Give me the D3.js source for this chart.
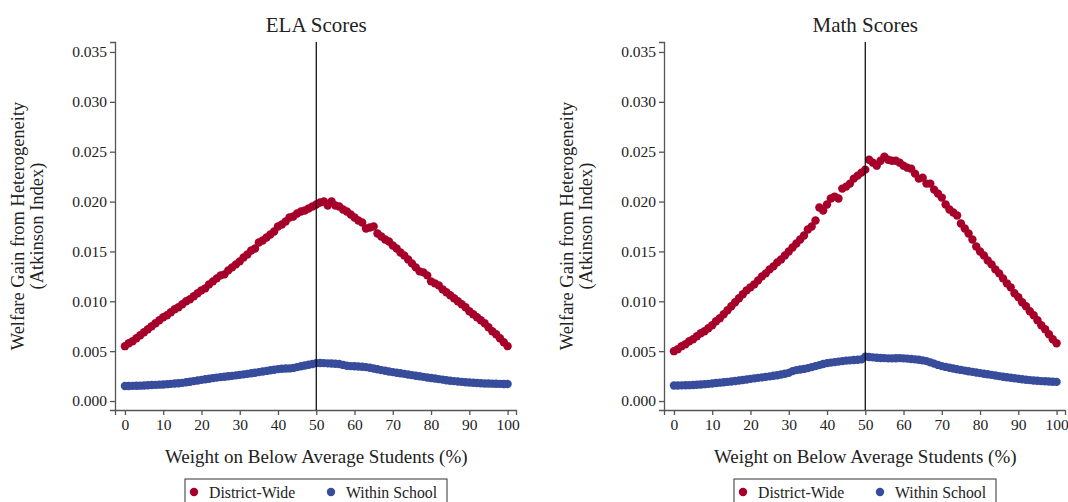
<!DOCTYPE html>
<html>
<head>
<meta charset="utf-8">
<script src="https://cdnjs.cloudflare.com/ajax/libs/d3/7.8.5/d3.min.js"></script>
<style>
  body { margin: 0; background: #fff; }
  svg { display: block; }
  svg text { font-family: "Liberation Serif", "Times New Roman", Times, "DejaVu Serif", serif; }
  .axis path, .axis line { stroke: #555; stroke-width: 1.3; }
  .axis text { fill: #222; font-size: 15.5px; }
</style>
</head>
<body>
<svg id="chart" width="1068" height="502"></svg>
<script>
// weight on below-average students, 0..100
const weights = d3.range(0, 101);
const xTicks = [0, 10, 20, 30, 40, 50, 60, 70, 80, 90, 100];
const yTicks = [0, 0.005, 0.010, 0.015, 0.020, 0.025, 0.030, 0.035];

const elaDistrict = [
    .0055, .0058, .0060, .0063, .0066, .0069, .0072, .0075, .0078, .0081,
    .0084, .0086, .0089, .0092, .0094, .0097, .0100, .0102, .0105, .0108,
    .0111, .0113, .0117, .0120, .0123, .0126, .0127, .0131, .0134, .0137,
    .0140, .0144, .0147, .0151, .0153, .0159, .0161, .0164, .0167, .0170,
    .0175, .0177, .0180, .0184, .0185, .0188, .0190, .0191, .0193, .0195,
    .0197, .0199, .0200, .0196, .0200, .0196, .0195, .0192, .0190, .0187,
    .0184, .0181, .0179, .0173, .0174, .0175, .0168, .0165, .0162, .0160,
    .0156, .0153, .0149, .0146, .0142, .0138, .0134, .0130, .0129, .0126,
    .0120, .0118, .0116, .0112, .0109, .0106, .0103, .0100, .0097, .0094,
    .0090, .0087, .0084, .0081, .0078, .0074, .0070, .0067, .0063, .0059,
    .0055
];
const elaWithin = [
    .00150, .00151, .00152, .00153, .00154, .00156, .00158, .00160, .00162, .00164,
    .00166, .00169, .00172, .00175, .00178, .00182, .00188, .00194, .00200, .00206,
    .00212, .00218, .00224, .00230, .00235, .00240, .00244, .00248, .00252, .00257,
    .00262, .00267, .00272, .00278, .00284, .00290, .00296, .00302, .00308, .00314,
    .00320, .00324, .00326, .00327, .00332, .00340, .00348, .00356, .00364, .00372,
    .00380, .00381, .00380, .00378, .00376, .00374, .00372, .00362, .00354, .00350,
    .00348, .00346, .00344, .00340, .00334, .00326, .00318, .00310, .00303, .00296,
    .00290, .00284, .00278, .00272, .00266, .00260, .00254, .00248, .00242, .00236,
    .00231, .00226, .00220, .00215, .00209, .00204, .00200, .00196, .00192, .00189,
    .00186, .00183, .00180, .00178, .00176, .00175, .00174, .00173, .00172, .00171,
    .00170
];
const mathDistrict = [
    .0050, .0052, .0055, .0057, .0060, .0062, .0065, .0068, .0070, .0073,
    .0076, .0080, .0083, .0087, .0091, .0095, .0099, .0103, .0107, .0111,
    .0114, .0117, .0121, .0125, .0128, .0132, .0135, .0139, .0142, .0146,
    .0150, .0154, .0158, .0162, .0166, .0172, .0175, .0181, .0194, .0191,
    .0197, .0203, .0205, .0203, .0213, .0215, .0218, .0223, .0226, .0229,
    .0232, .0242, .0239, .0236, .0241, .0245, .0242, .0241, .0241, .0239,
    .0236, .0234, .0233, .0228, .0223, .0224, .0218, .0218, .0212, .0208,
    .0204, .0197, .0192, .0189, .0186, .0178, .0173, .0168, .0162, .0155,
    .0150, .0146, .0141, .0137, .0132, .0128, .0123, .0118, .0114, .0108,
    .0104, .0099, .0095, .0090, .0086, .0081, .0076, .0072, .0067, .0062,
    .0058
];
const mathWithin = [
    .00155, .00156, .00157, .00158, .00159, .00161, .00163, .00166, .00169, .00172,
    .00176, .00180, .00184, .00188, .00192, .00196, .00201, .00206, .00211, .00216,
    .00222, .00227, .00232, .00237, .00242, .00247, .00253, .00259, .00266, .00273,
    .00282, .00300, .00310, .00316, .00322, .00330, .00340, .00350, .00360, .00372,
    .00380, .00385, .00390, .00395, .00400, .00405, .00408, .00411, .00414, .00418,
    .00445, .00442, .00438, .00434, .00432, .00430, .00428, .00428, .00429, .00430,
    .00428, .00425, .00422, .00418, .00414, .00408, .00400, .00388, .00375, .00362,
    .00350, .00342, .00334, .00326, .00318, .00312, .00305, .00299, .00292, .00286,
    .00280, .00274, .00268, .00262, .00256, .00250, .00244, .00238, .00233, .00228,
    .00223, .00218, .00214, .00210, .00206, .00203, .00200, .00198, .00196, .00194,
    .00192
];

const RED = "#a6002a";
const BLUE = "#374c9b";

const svg = d3.select("#chart");

function drawPanel(offsetX, title, district, within) {
    let g = svg.append("g").attr("transform", `translate(${offsetX},0)`);

    let x = d3.scaleLinear().domain([-2.6, 102.2]).range([115, 516]);
    let y = d3.scaleLinear().domain([-0.0009, 0.036]).range([410, 42]);

    g.append("g")
            .classed("axis", true)
            .attr("transform", "translate(0,410)")
            .call(d3.axisBottom(x).tickValues(xTicks).tickSizeOuter(0).tickSize(5).tickPadding(4));

    g.append("g")
            .classed("axis", true)
            .attr("transform", "translate(115,0)")
            .call(d3.axisLeft(y).tickValues(yTicks).tickSizeOuter(0).tickSize(5).tickPadding(3)
                .tickFormat(d3.format(".3f")));

    g.selectAll(".axis text").attr("font-family", "Liberation Serif, serif");

    [[district, RED], [within, BLUE]].forEach(([values, color]) => {
        g.append("g")
            .selectAll("circle")
            .data(weights)
            .enter()
            .append("circle")
                .attr("cx", w => x(w))
                .attr("cy", w => y(values[w]))
                .attr("r", 4.2)
                .attr("fill", color);
    });

    // reference line at equal weight
    g.append("line")
        .attr("x1", x(50)).attr("x2", x(50))
        .attr("y1", y.range()[1]).attr("y2", y.range()[0])
        .attr("stroke", "#000")
        .attr("stroke-width", 1.2);

    g.append("text")
        .attr("x", x(50))
        .attr("y", 32)
        .attr("font-size", "21px")
        .attr("fill", "#222")
        .style("text-anchor", "middle")
        .text(title);

    g.append("text")
        .attr("x", x(50))
        .attr("y", 463)
        .attr("font-size", "19px")
        .attr("fill", "#222")
        .style("text-anchor", "middle")
        .text("Weight on Below Average Students (%)");

    ["Welfare Gain from Heterogeneity", "(Atkinson Index)"].forEach((line, i) => {
        g.append("text")
            .attr("transform", `translate(${24 + i * 19},226) rotate(-90)`)
            .attr("font-size", "18.5px")
            .attr("fill", "#222")
            .style("text-anchor", "middle")
            .text(line);
    });

    // legend box, partly below the page edge as in the original
    let legend = g.append("g");
    legend.append("rect")
        .attr("x", 185).attr("y", 479)
        .attr("width", 262).attr("height", 40)
        .attr("fill", "none")
        .attr("stroke", "#333")
        .attr("stroke-width", 1);
    [["District-Wide", RED, 194], ["Within School", BLUE, 331]].forEach(([label, color, cx]) => {
        legend.append("circle")
            .attr("cx", cx).attr("cy", 492).attr("r", 4.2)
            .attr("fill", color);
        legend.append("text")
            .attr("x", cx + 15).attr("y", 497.5)
            .attr("font-size", "15.8px")
            .attr("fill", "#222")
            .text(label);
    });
}

drawPanel(0, "ELA Scores", elaDistrict, elaWithin);
drawPanel(549, "Math Scores", mathDistrict, mathWithin);
</script>
</body>
</html>
